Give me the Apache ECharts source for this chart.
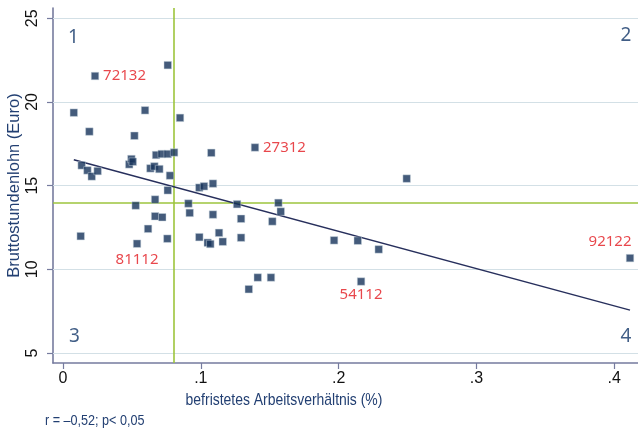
<!DOCTYPE html>
<html>
<head>
<meta charset="utf-8">
<script src="https://cdn.jsdelivr.net/npm/echarts@6/dist/echarts.min.js"></script>
<style>
  html, body { margin: 0; padding: 0; background: #ffffff; }
  #chart { width: 638px; height: 432px; }
</style>
</head>
<body>
<div id="chart"></div>
<script>
// Share of fixed-term contracts (x) vs. gross hourly wage in euro (y), one point per occupation
const shareFixedTerm = [
  0.0078, 0.0128, 0.0135, 0.0177, 0.0191, 0.0208, 0.0232, 0.0251, 0.0480, 0.0496,
  0.0506, 0.0518, 0.0527, 0.0537, 0.0595, 0.0617, 0.0634, 0.0663, 0.0668, 0.0668,
  0.0675, 0.0699, 0.0716, 0.0720, 0.0760, 0.0760, 0.0760, 0.0757, 0.0776, 0.0806,
  0.0849, 0.0910, 0.0919, 0.0989, 0.0989, 0.1023, 0.1050, 0.1069, 0.1076, 0.1088,
  0.1088, 0.1132, 0.1159, 0.1263, 0.1292, 0.1292, 0.1348, 0.1393, 0.1413, 0.1509,
  0.1519, 0.1563, 0.1580, 0.1967, 0.2139, 0.2163, 0.2291, 0.2494, 0.4115
];
const hourlyWage = [
  19.36, 11.98, 16.21, 15.91, 18.23, 15.55, 21.55, 15.87, 16.27, 16.59,
  16.43, 17.98, 13.81, 11.53, 19.50, 12.42, 16.03, 16.15, 14.17, 13.17,
  16.83, 15.99, 16.89, 13.11, 16.89, 22.20, 14.72, 11.83, 15.60, 16.98,
  19.05, 13.93, 13.37, 14.88, 11.92, 14.96, 11.59, 11.51, 16.96, 15.12,
  13.27, 12.18, 11.65, 13.89, 13.02, 11.89, 8.81, 17.28, 9.51, 9.51,
  12.86, 13.97, 13.45, 11.73, 11.71, 9.27, 11.19, 15.42, 10.67
];
// occupation codes shown next to selected points ('' = no label)
const occupationCode = [
  '', '', '', '', '', '', '72132', '', '', '',
  '', '', '', '81112', '', '', '', '', '', '',
  '', '', '', '', '', '', '', '', '', '',
  '', '', '', '', '', '', '', '', '', '',
  '', '', '', '', '', '', '', '27312', '', '',
  '', '', '', '', '', '54112', '', '', '92122'
];

// linear fit, drawn across the observed x range
const fitX = [0.0078, 0.4115];
const fitY = [16.55, 7.56];

// reference lines: mean share (vertical) and mean wage (horizontal)
const meanShare = 0.0806;
const meanWage = 14.0;

// quadrant numbers
const quadText = ['1', '2', '3', '4'];
const quadX = [0.0075, 0.4085, 0.0082, 0.4085];
const quadY = [23.85, 23.95, 6.0, 6.0];

const xTicks = [0, 0.1, 0.2, 0.3, 0.4];
const yTicks = [5, 10, 15, 20, 25];

const xTitle = 'befristetes Arbeitsverh\u00e4ltnis (%)';
const yTitle = 'Bruttostundenlohn (Euro)';
const footnote = 'r = \u20130,52; p< 0,05';

const navy = '#15325a';
const axisBlue = '#767b9e';
const textBlue = '#223f72';
const codeRed = '#e2191f';
const green = '#9dc53c';
const regular = '"Liberation Sans", Arial, sans-serif';

// label placement for the annotated occupations
const codeLabelStyle = {
  '72132': { position: 'right', distance: 4 },
  '27312': { position: 'right', distance: 4 },
  '81112': { position: 'bottom', distance: 4 },
  '54112': { position: 'bottom', distance: 2 },
  '92122': { position: 'top', distance: 5, offset: [-20, 0] }
};

const points = shareFixedTerm.map((x, i) => {
  const code = occupationCode[i];
  const item = { value: [x, hourlyWage[i]], name: code };
  if (code) {
    const s = codeLabelStyle[code];
    item.label = Object.assign({
      show: true,
      formatter: code,
      color: codeRed,
      fontFamily: '"Noto Sans", "Open Sans", sans-serif',
      fontSize: 15
    }, s);
  }
  return item;
});

const chart = echarts.init(document.getElementById('chart'), null, { renderer: 'canvas' });

chart.setOption({
  animation: false,
  backgroundColor: '#ffffff',
  grid: { left: 53, right: 0, top: 8, bottom: 69, containLabel: false, outerBoundsMode: 'none' },
  xAxis: {
    type: 'value',
    min: -0.0073,
    max: 0.4173,
    axisLine: { show: true, onZero: false, lineStyle: { color: axisBlue, width: 1.6 } },
    axisTick: { show: true, length: 6, customValues: xTicks, lineStyle: { color: axisBlue, width: 1.2 } },
    axisLabel: {
      customValues: xTicks,
      margin: 8,
      color: '#111111',
      fontFamily: regular,
      fontSize: 16,
      formatter: v => (v === 0 ? '0' : String(+v.toFixed(2)).replace(/^0/, ''))
    },
    splitLine: { show: false }
  },
  yAxis: {
    type: 'value',
    min: 4.40,
    max: 25.615,
    name: yTitle,
    nameLocation: 'middle',
    nameGap: 30,
    nameMoveOverlap: false,
    nameTextStyle: { color: textBlue, fontFamily: regular, fontSize: 16.5 },
    axisLine: { show: true, onZero: false, lineStyle: { color: axisBlue, width: 1.6 } },
    axisTick: { show: true, length: 6, customValues: yTicks, lineStyle: { color: axisBlue, width: 1.2 } },
    axisLabel: {
      customValues: yTicks,
      rotate: 90,
      margin: 12,
      color: '#111111',
      fontFamily: regular,
      fontSize: 16
    },
    splitLine: { show: false }
  },
  graphic: [
    {
      // x-axis title, set in a condensed width
      type: 'text',
      x: 284,
      y: 400,
      scaleX: 0.82,
      style: {
        text: xTitle,
        fill: textBlue,
        font: '17px ' + regular,
        align: 'center',
        verticalAlign: 'middle'
      }
    },
    {
      type: 'text',
      x: 45,
      y: 421,
      scaleX: 0.9,
      style: { text: footnote, fill: textBlue, font: '14px ' + regular, verticalAlign: 'middle' }
    }
  ],
  series: [
    {
      // light horizontal grid at the labelled y ticks
      type: 'scatter',
      data: [],
      silent: true,
      z: 1,
      markLine: {
        z: 1,
        silent: true,
        symbol: 'none',
        label: { show: false },
        lineStyle: { color: '#d3e0e6', width: 1.2, type: 'solid' },
        data: yTicks.map(v => ({ yAxis: v }))
      }
    },
    {
      // mean reference lines
      type: 'scatter',
      data: [],
      silent: true,
      z: 2,
      markLine: {
        z: 2,
        silent: true,
        symbol: 'none',
        label: { show: false },
        lineStyle: { color: green, width: 1.6, type: 'solid' },
        data: [{ xAxis: meanShare }, { yAxis: meanWage }]
      }
    },
    {
      type: 'line',
      data: fitX.map((x, i) => [x, fitY[i]]),
      symbol: 'none',
      z: 3,
      lineStyle: { color: '#272f5c', width: 1.5 }
    },
    {
      type: 'scatter',
      data: points,
      symbol: 'rect',
      symbolSize: 7.5,
      z: 4,
      itemStyle: { color: navy, borderColor: '#c9d5de', borderWidth: 0.6 }
    },
    {
      type: 'scatter',
      data: quadText.map((t, i) => ({ value: [quadX[i], quadY[i]], name: t })),
      symbolSize: 0,
      z: 5,
      label: {
        show: true,
        position: 'inside',
        formatter: p => p.name,
        color: '#123668',
        fontFamily: '"Noto Sans", "Open Sans", sans-serif',
        fontSize: 19
      }
    }
  ]
});
</script>
</body>
</html>
